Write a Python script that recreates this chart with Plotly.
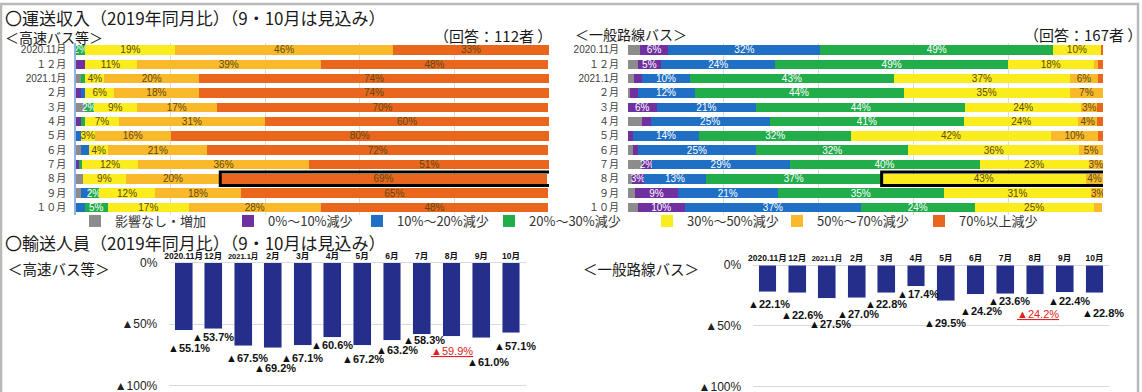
import plotly.graph_objects as go

W, H = 1142, 392

# ---------------- data ----------------
months_top = ["2020.11月", "１２月", "2021.1月", "２月", "３月", "４月", "５月", "６月", "７月", "８月", "９月", "１０月"]
months_bottom = ["2020.11月", "12月", "2021.1月", "2月", "3月", "4月", "5月", "6月", "7月", "8月", "9月", "10月"]

bands = ["影響なし・増加", "0%～10%減少", "10%～20%減少", "20%～30%減少", "30%～50%減少", "50%～70%減少", "70%以上減少"]

# 運送収入 高速バス等 (share of operators, %)
hs_none = [0, 0, 1, 0, 1.8, 0, 0, 1, 0, 1.5, 1, 0]
hs_0_10 = [0, 1.8, 0, 1, 0, 1, 0, 0, 0.6, 0, 0, 0]
hs_10_20 = [0, 0, 0, 1, 0, 0, 1, 1.8, 0, 0, 1.8, 1.8]
hs_20_30 = [2, 0, 1, 0, 2, 1, 0, 0, 0.6, 0, 2, 5]
hs_30_50 = [19, 11, 4, 6, 9, 7, 3, 4, 12, 9, 12, 17]
hs_50_70 = [46, 39, 20, 18, 17, 31, 16, 21, 36, 20, 18, 28]
hs_70 = [33, 48, 74, 74, 70, 60, 80, 72, 51, 69, 65, 48]

# 運送収入 一般路線バス
rb_none = [2.5, 2, 1.2, 0.5, 0, 3, 0, 1, 3, 0.8, 1.5, 2]
rb_0_10 = [6, 5, 1.8, 1.5, 6, 1.8, 1, 1, 2, 2.6, 9, 10]
rb_10_20 = [32, 24, 10, 12, 21, 25, 14, 25, 29, 13, 21, 37]
rb_20_30 = [49, 49, 43, 44, 44, 41, 32, 32, 40, 37, 35, 24]
rb_30_50 = [10, 18, 37, 35, 24.4, 24, 42, 36, 23, 43, 31, 25]
rb_50_70 = [0, 1, 6, 7, 3.4, 4, 10, 5, 3, 3.6, 3, 1.8]
rb_70 = [0.5, 1, 1, 0, 1.2, 1.2, 1, 0, 0, 0, 0, 0]

# 輸送人員 (change vs 2019, %)
hs_passengers = [-55.1, -53.7, -67.5, -69.2, -67.1, -60.6, -67.2, -63.2, -58.3, -59.9, -61.0, -57.1]
rb_passengers = [-22.1, -22.6, -27.5, -27.0, -22.8, -17.4, -29.5, -24.2, -23.6, -24.2, -22.4, -22.8]

highlight_month = 9  # 8月

# ---------------- styles ----------------
band_colors = ["#8c8c8c", "#7030a0", "#1f6fc4", "#22ad4b", "#fbec1e", "#f9b92a", "#e9661c"]
band_text_colors = ["white", "white", "white", "white", "#5c4a14", "#5c4a14", "#5c4a14"]
band_labelled = [False, True, True, True, True, True, True]
bar_navy = "#262e8c"
JP = "Noto Sans CJK JP"
NUM = "Liberation Sans, Noto Sans CJK JP, DejaVu Sans"


def fx(p):
    return p / W


def fy(p):
    return 1 - p / H


fig = go.Figure()

hs_sets = [hs_none, hs_0_10, hs_10_20, hs_20_30, hs_30_50, hs_50_70, hs_70]
rb_sets = [rb_none, rb_0_10, rb_10_20, rb_20_30, rb_30_50, rb_50_70, rb_70]


def seg_text(vals, labelled):
    return [(f"{v:.0f}%" if (labelled and v >= 2) else "") for v in vals]


for i, name in enumerate(bands):
    lg = "legend" if i == 0 else f"legend{i + 1}"
    common = dict(orientation="h", name=name, textposition="inside",
                  insidetextanchor="middle", textangle=0, constraintext="none",
                  marker=dict(color=band_colors[i], line=dict(width=0)),
                  textfont=dict(size=10, color=band_text_colors[i], family=NUM),
                  legendgroup=name, hoverinfo="skip")
    fig.add_trace(go.Bar(y=months_top, x=hs_sets[i], text=seg_text(hs_sets[i], band_labelled[i]),
                         xaxis="x", yaxis="y", legend=lg, showlegend=True, **common))
    fig.add_trace(go.Bar(y=months_top, x=rb_sets[i], text=seg_text(rb_sets[i], band_labelled[i]),
                         xaxis="x2", yaxis="y2", showlegend=False, **common))

fig.add_trace(go.Bar(x=months_bottom, y=hs_passengers, marker_color=bar_navy, width=0.6,
                     xaxis="x3", yaxis="y3", showlegend=False, hoverinfo="skip"))
fig.add_trace(go.Bar(x=months_bottom, y=rb_passengers, marker_color=bar_navy, width=0.6,
                     xaxis="x4", yaxis="y4", showlegend=False, hoverinfo="skip"))

# highlight boxes (8月)
hs_start = sum(s[highlight_month] for s in hs_sets[:6])
rb_start = sum(s[highlight_month] for s in rb_sets[:4])
shapes = [
    dict(type="rect", xref="x", yref="y", x0=hs_start, x1=100.4,
         y0=highlight_month - 0.47, y1=highlight_month + 0.47,
         line=dict(color="black", width=3)),
    dict(type="rect", xref="x2", yref="y2", x0=rb_start, x1=100.4,
         y0=highlight_month - 0.47, y1=highlight_month + 0.47,
         line=dict(color="black", width=3)),
    dict(type="rect", xref="paper", yref="paper", x0=fx(1), x1=fx(1138), y0=fy(396), y1=fy(4),
         line=dict(color="#b8b8b8", width=2.5), layer="below"),
]

# labels under passenger bars (pixel offsets)
hs_dx = [5, 0, 4, 2, -1, 0, 1, 5, 2, 1, 7, 4]
hs_dy = [18, 8, 12, 20, 13, 8, 14, 10, 6, 15, 24, 13]
rb_dx = [2, 5, 3, 1, 0, 2, -1, 5, 4, 3, 4, 9]
rb_dy = [12, 22, 26, 16, 11, 8, 22, 17, 7, 20, 9, 20]

annotations = []


def pct_label(v, hl):
    t = f"▲{abs(v):.1f}%"
    return f"<u>{t}</u>" if hl else f"<b>{t}</b>"


for vals, dxs, dys, xa, ya in [(hs_passengers, hs_dx, hs_dy, "x3", "y3"),
                               (rb_passengers, rb_dx, rb_dy, "x4", "y4")]:
    for i, v in enumerate(vals):
        hl = i == highlight_month
        annotations.append(dict(
            x=months_bottom[i], y=v, xref=xa, yref=ya, text=pct_label(v, hl),
            showarrow=False, xanchor="center", yanchor="middle",
            xshift=dxs[i], yshift=-dys[i],
            font=dict(size=11, family=NUM, color="#e02020" if hl else "#111111")))


def txt(s, x, y, size, anchor="left", color="#1a1a1a"):
    annotations.append(dict(text=s, x=fx(x), y=fy(y), xref="paper", yref="paper",
                            xanchor=anchor, yanchor="middle", showarrow=False,
                            font=dict(size=size, family=JP, color=color)))


txt("〇運送収入（2019年同月比）（9・10月は見込み）", 3, 17, 17)
txt("＜高速バス等＞", 3, 37, 14)
txt("（回答：112者 ）", 432, 35, 15)
txt("＜一般路線バス＞", 573, 34, 14)
txt("（回答：167者 ）", 1022, 34, 15)
txt("〇輸送人員（2019年同月比）（9・10月は見込み）", 3, 242, 17)
txt("＜高速バス等＞", 6, 268, 14.5)
txt("＜一般路線バス＞", 581, 268, 14.5)

# legends (one per band so each sits where the reference puts it)
legend_sq_x = [89, 242, 371, 503, 661, 791, 933]
legends = {}
for i, sx in enumerate(legend_sq_x):
    key = "legend" if i == 0 else f"legend{i + 1}"
    legends[key] = dict(x=fx(sx - 14), y=fy(221), xanchor="left", yanchor="middle",
                        orientation="h", bgcolor="rgba(0,0,0,0)",
                        font=dict(size=13, family=JP, color="#333333"),
                        itemclick=False, itemdoubleclick=False)

bottom_ticktext = [(f"<span style='font-size:7.5px'><b>{m}</b></span>" if m == "2021.1月" else f"<b>{m}</b>")
                   for m in months_bottom]

axis_common = dict(automargin=False, fixedrange=True)
pass_ticks = dict(tickvals=[0, -50, -100], ticktext=["0%", "▲50%", "▲100%"],
                  showgrid=True, gridcolor="#d9d9d9", zeroline=False, ticks="outside", ticklen=8,
                  tickcolor="rgba(0,0,0,0)", ticklabeloverflow="allow",
                  tickfont=dict(size=12, family=NUM, color="#222222"))

fig.update_layout(
    width=W, height=H, margin=dict(l=0, r=0, t=0, b=0, autoexpand=False),
    paper_bgcolor="white", plot_bgcolor="rgba(0,0,0,0)",
    barmode="stack", bargap=0.34,
    font=dict(family=NUM, color="#333333"),
    xaxis=dict(domain=[fx(76), fx(549)], range=[0, 100], showticklabels=False,
               dtick=20, showgrid=True, gridcolor="#dcdcdc", zeroline=False, **axis_common),
    yaxis=dict(domain=[fy(214.6), fy(42.8)], type="category", categoryarray=months_top,
               autorange="reversed", showgrid=False, ticks="outside", ticklen=6, tickcolor="rgba(0,0,0,0)",
               showline=True, linecolor="#8fb4e3", linewidth=1.5, tickangle=0,
               tickfont=dict(size=10, family=NUM, color="#404040"), **axis_common),
    xaxis2=dict(domain=[fx(628), fx(1103)], range=[0, 100], showticklabels=False,
                dtick=20, showgrid=True, gridcolor="#dcdcdc", zeroline=False, anchor="y2", **axis_common),
    yaxis2=dict(domain=[fy(214.6), fy(42.8)], type="category", categoryarray=months_top,
                autorange="reversed", showgrid=False, ticks="outside", ticklen=6, tickcolor="rgba(0,0,0,0)",
                anchor="x2", tickangle=0, tickfont=dict(size=10, family=NUM, color="#404040"), **axis_common),
    xaxis3=dict(domain=[fx(168.7), fx(525.9)], anchor="y3", side="top", type="category",
                range=[-0.5, 11.5], tickvals=months_bottom, ticktext=bottom_ticktext,
                showgrid=False, ticks="", tickangle=0,
                tickfont=dict(size=8.5, family=NUM, color="#111111"), **axis_common),
    yaxis3=dict(domain=[fy(386.9), fy(261.5)], anchor="x3", range=[-101, 1], **pass_ticks, **axis_common),
    xaxis4=dict(domain=[fx(752.6), fx(1109.3)], anchor="y4", side="top", type="category",
                range=[-0.5, 11.5], tickvals=months_bottom, ticktext=bottom_ticktext,
                showgrid=False, ticks="", tickangle=0,
                tickfont=dict(size=8.5, family=NUM, color="#111111"), **axis_common),
    yaxis4=dict(domain=[fy(387.9), fy(263.8)], anchor="x4", range=[-101, 1], **pass_ticks, **axis_common),
    shapes=shapes, annotations=annotations, **legends,
)

fig.write_html("out.html", config={"displayModeBar": False},
               post_script="document.body.style.margin='0px';")
